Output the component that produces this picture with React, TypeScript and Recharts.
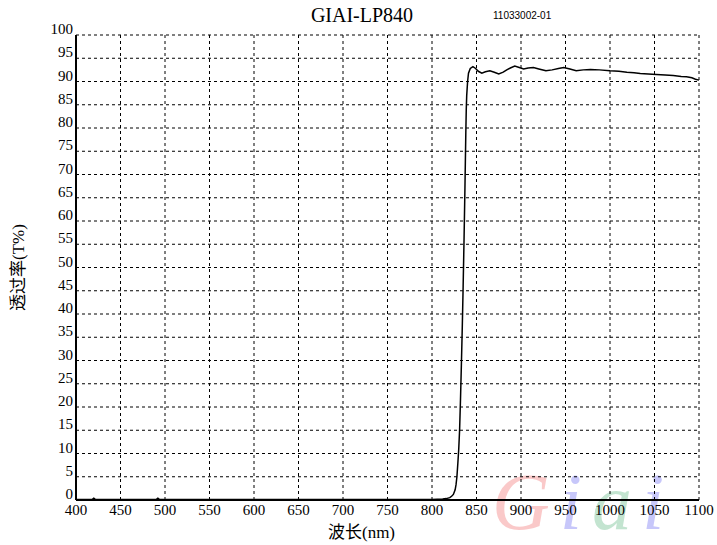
import React from "react";
import {
  LineChart,
  Line,
  XAxis,
  YAxis,
  CartesianGrid,
  Label,
} from "recharts";

// wavelength (nm) and transmittance (%)
const wavelengths = [
  400, 418, 420, 422, 490, 492, 494, 600, 700, 800, 812, 816, 820, 822, 824,
  826, 827, 828, 829, 830, 831, 832, 833, 834, 835, 836, 837, 838, 838.5, 839,
  840, 841, 843, 846, 849, 852, 856, 860, 865, 870, 875, 880, 884, 888, 893,
  898, 903, 908, 914, 920, 928, 935, 942, 948, 955, 962, 970, 978, 988, 1000,
  1010, 1019, 1027, 1034, 1043, 1052, 1062, 1071, 1080, 1086, 1092, 1096, 1100,
];
const transmittance = [
  0.1, 0.1, 0.4, 0.1, 0.1, 0.4, 0.1, 0.1, 0.1, 0.1, 0.2, 0.3, 0.5, 0.8, 1.2,
  2.2, 3.3, 5, 7.8, 10.8, 15, 21.5, 29, 37, 46, 56, 67, 79, 84, 87, 90, 91.8,
  92.8, 93.2, 92.8, 92.2, 91.8, 92.1, 92.3, 92.0, 91.6, 92.0, 92.5, 92.9, 93.3,
  93.0, 92.7, 92.9, 93.0, 92.7, 92.3, 92.5, 92.8, 93.0, 92.7, 92.3, 92.5, 92.6,
  92.5, 92.3, 92.2, 92.0, 91.9, 91.7, 91.6, 91.5, 91.4, 91.3, 91.1, 91.0, 90.8,
  90.5, 90.3,
];

const xTicks = [
  400, 450, 500, 550, 600, 650, 700, 750, 800, 850, 900, 950, 1000, 1050, 1100,
];
const yTicks = [
  0, 5, 10, 15, 20, 25, 30, 35, 40, 45, 50, 55, 60, 65, 70, 75, 80, 85, 90, 95,
  100,
];

const data = wavelengths.map((w, i) => ({ w, t: transmittance[i] }));

const SERIF = "'Liberation Serif', 'Times New Roman', serif";
const CJK = "'Liberation Serif', 'Noto Sans CJK SC', serif";

const YTick = (props: any) => {
  const { x, y, payload } = props;
  return (
    <text
      x={x}
      y={y}
      dy={-1}
      textAnchor="end"
      fontFamily={SERIF}
      fontSize={15}
      fill="#000"
    >
      {payload.value}
    </text>
  );
};

const XTick = (props: any) => {
  const { x, y, payload } = props;
  return (
    <text
      x={x}
      y={y}
      dy={12}
      textAnchor="middle"
      fontFamily={SERIF}
      fontSize={15}
      fill="#000"
    >
      {payload.value}
    </text>
  );
};

export default function App() {
  return (
    <div
      style={{
        position: "absolute",
        left: 0,
        top: 0,
        width: 717,
        height: 545,
        background: "#fff",
        overflow: "hidden",
      }}
    >
      {/* faint logo watermark behind the plot */}
      <svg
        width={220}
        height={80}
        style={{ position: "absolute", left: 488, top: 463 }}
      >
        <text
          x={4}
          y={66}
          fontFamily={SERIF}
          fontStyle="italic"
          fontSize={80}
          letterSpacing={10}
          opacity={0.28}
        >
          <tspan fill="#f04040">G</tspan>
          <tspan fill="#3a3af0">i</tspan>
          <tspan fill="#2aa05a">a</tspan>
          <tspan fill="#3a3af0">i</tspan>
        </text>
      </svg>

      <svg
        width={717}
        height={40}
        style={{ position: "absolute", left: 0, top: 0 }}
      >
        <text
          x={362}
          y={22}
          textAnchor="middle"
          fontFamily={SERIF}
          fontSize={20}
          fill="#000"
        >
          GIAI-LP840
        </text>
        <text
          x={493}
          y={19}
          fontFamily="'Liberation Sans', Arial, sans-serif"
          fontSize={10}
          fill="#000"
        >
          11033002-01
        </text>
      </svg>

      <div style={{ position: "absolute", left: 0, top: 0 }}>
        <LineChart
          width={717}
          height={545}
          data={data}
          margin={{ top: 35, right: 18, bottom: 0, left: 0 }}
        >
          <CartesianGrid
            stroke="#000"
            strokeDasharray="3 3"
            strokeWidth={1}
            horizontalValues={yTicks}
            verticalValues={xTicks}
          />
          <XAxis
            dataKey="w"
            type="number"
            domain={[400, 1100]}
            ticks={xTicks}
            interval={0}
            height={45}
            tickSize={0}
            tickMargin={3}
            tick={<XTick />}
            axisLine={{ stroke: "#000", strokeWidth: 2 }}
          >
            <Label
              value="波长(nm)"
              position="insideBottom"
              offset={7}
              dx={-26}
              style={{ fontFamily: CJK, fontSize: 17, fill: "#000" }}
            />
          </XAxis>
          <XAxis
            xAxisId="top"
            orientation="top"
            dataKey="w"
            type="number"
            domain={[400, 1100]}
            height={0}
            tick={false}
            tickLine={false}
            axisLine={{ stroke: "#000", strokeWidth: 1 }}
          />
          <YAxis
            type="number"
            domain={[0, 100]}
            ticks={yTicks}
            interval={0}
            width={76}
            tickSize={0}
            tickMargin={3}
            tick={<YTick />}
            axisLine={{ stroke: "#000", strokeWidth: 2 }}
          >
            <Label
              value="透过率(T%)"
              angle={-90}
              position="insideLeft"
              offset={18}
              style={{
                fontFamily: CJK,
                fontSize: 17,
                fill: "#000",
                textAnchor: "middle",
              }}
            />
          </YAxis>
          <YAxis
            yAxisId="right"
            orientation="right"
            type="number"
            domain={[0, 100]}
            width={0}
            tick={false}
            tickLine={false}
            axisLine={{ stroke: "#000", strokeWidth: 1 }}
          />
          <Line
            dataKey="t"
            type="linear"
            stroke="#000"
            strokeWidth={1.5}
            dot={false}
            isAnimationActive={false}
          />
        </LineChart>
      </div>
    </div>
  );
}
